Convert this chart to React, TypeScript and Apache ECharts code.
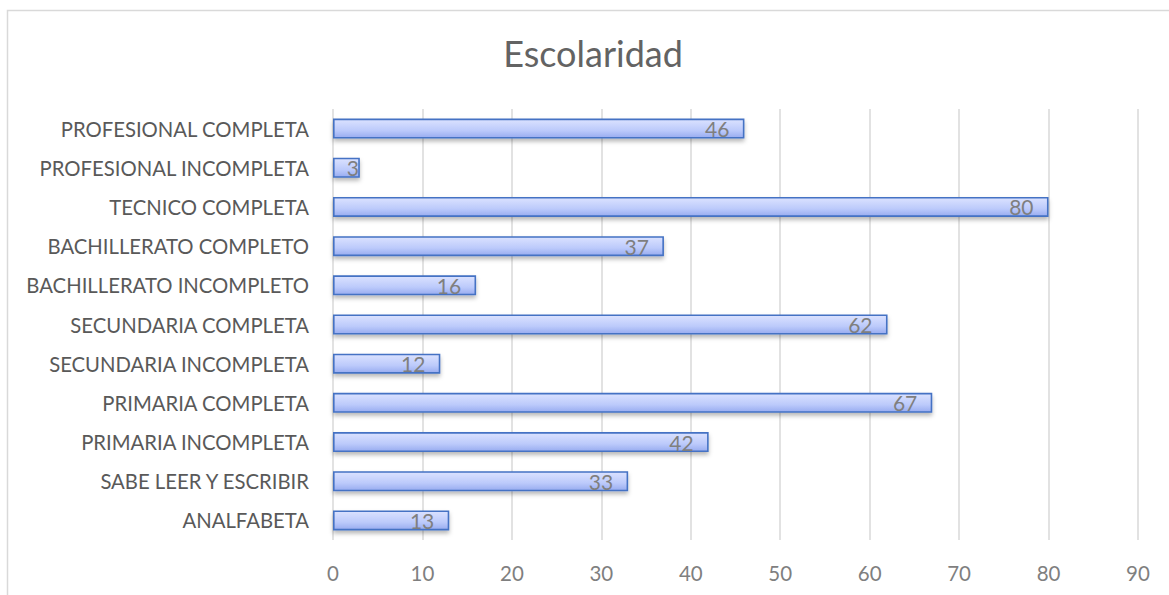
import React, { useEffect, useRef } from "react";
import * as echarts from "echarts";

const categories = [
  "ANALFABETA",
  "SABE LEER Y ESCRIBIR",
  "PRIMARIA INCOMPLETA",
  "PRIMARIA COMPLETA",
  "SECUNDARIA INCOMPLETA",
  "SECUNDARIA COMPLETA",
  "BACHILLERATO INCOMPLETO",
  "BACHILLERATO COMPLETO",
  "TECNICO COMPLETA",
  "PROFESIONAL INCOMPLETA",
  "PROFESIONAL COMPLETA",
];
const values = [13, 33, 42, 67, 12, 62, 16, 37, 80, 3, 46];
const titleText = "Escolaridad";

export default function App() {
  const ref = useRef<HTMLDivElement>(null);
  useEffect(() => {
    const chart = echarts.init(ref.current!, null, { renderer: "svg" });
    const font = "Lato, 'Open Sans', sans-serif";
    chart.setOption({
      animation: false,
      backgroundColor: "#ffffff",
      title: {
        text: titleText,
        left: 588,
        top: 30,
        textAlign: "center",
        textStyle: { color: "#636363", fontSize: 36, fontWeight: "normal", fontFamily: font },
      },
      graphic: [
        {
          type: "rect",
          shape: { x: 7.5, y: 10.5, width: 1200, height: 700 },
          style: { fill: "none", stroke: "#d9d9d9", lineWidth: 1.5 },
          silent: true,
        },
      ],
      grid: { left: 333, right: 31, top: 109, bottom: 55, containLabel: false },
      xAxis: {
        type: "value",
        min: 0,
        max: 90,
        interval: 10,
        axisLine: { show: false },
        axisTick: { show: false },
        splitLine: { show: true, lineStyle: { color: "#d9d9d9", width: 1.5 } },
        axisLabel: { color: "#7f7f7f", fontSize: 20.5, fontFamily: font, margin: 22 },
      },
      yAxis: {
        type: "category",
        data: categories,
        axisLine: { show: false },
        axisTick: { show: false },
        axisLabel: { color: "#595959", fontSize: 20.3, fontFamily: font, margin: 24 },
      },
      series: [
        {
          type: "bar",
          data: values.map((v) => (v < 5 ? { value: v, label: { distance: 1 } } : v)),
          barWidth: 20,
          itemStyle: {
            color: new echarts.graphic.LinearGradient(0, 0, 0, 1, [
              { offset: 0, color: "#dbe2ff" },
              { offset: 0.6, color: "#bccafb" },
              { offset: 1, color: "#98acf0" },
            ]),
            borderColor: "#4472c4",
            borderWidth: 1.6,
            shadowColor: "rgba(0,0,0,0.28)",
            shadowBlur: 4,
            shadowOffsetY: 3,
          },
          label: {
            show: true,
            position: "insideRight",
            distance: 15,
            color: "#7f7f7f",
            fontSize: 21,
            fontFamily: font,
          },
        },
      ],
    });
    return () => chart.dispose();
  }, []);
  return (
    <div
      ref={ref}
      style={{ position: "fixed", left: 0, top: 0, width: 1169, height: 595 }}
    />
  );
}
